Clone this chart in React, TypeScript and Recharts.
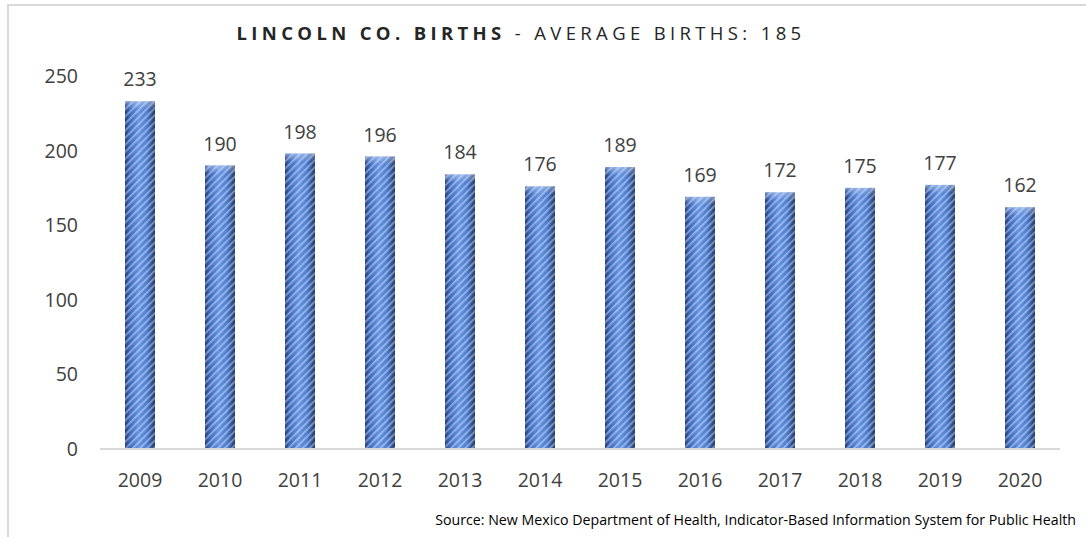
import React from 'react';
import { BarChart, Bar, XAxis, YAxis, LabelList } from 'recharts';

const years = ['2009', '2010', '2011', '2012', '2013', '2014', '2015', '2016', '2017', '2018', '2019', '2020'];
const births = [233, 190, 198, 196, 184, 176, 189, 169, 172, 175, 177, 162];
const yTicks = [0, 50, 100, 150, 200, 250];

const data = years.map((year, i) => ({ year, births: births[i] }));

const font = '"Open Sans", sans-serif';
const textColor = '#404040';

// cylinder-ish bar: shaded body plus diagonal stripes and a light cap
const StripedBar = (props: any) => {
  const { x, y, width, height } = props;
  if (!height || height <= 0) return null;
  return (
    <g>
      <rect x={x} y={y} width={width} height={height} fill="url(#cylShade)" />
      <rect x={x} y={y} width={width} height={height} fill="url(#diagStripes)" />
      <rect x={x} y={y} width={width} height={Math.min(8, height)} fill="url(#capShade)" opacity={0.45} />
    </g>
  );
};

export default function App() {
  return (
    <div style={{ position: 'relative', width: 1086, height: 537, background: '#fff', fontFamily: font }}>
      <style>{'body{margin:0}'}</style>
      <svg width={0} height={0} style={{ position: 'absolute' }}>
        <defs>
          <linearGradient id="cylShade" x1="0" y1="0" x2="1" y2="0">
            <stop offset="0%" stopColor="#22407c" />
            <stop offset="15%" stopColor="#3d68bd" />
            <stop offset="45%" stopColor="#6594e2" />
            <stop offset="72%" stopColor="#517fd0" />
            <stop offset="100%" stopColor="#1f3a72" />
          </linearGradient>
          <linearGradient id="capShade" x1="0" y1="0" x2="0" y2="1">
            <stop offset="0%" stopColor="#d3e2fa" />
            <stop offset="100%" stopColor="#d3e2fa" stopOpacity="0" />
          </linearGradient>
          <pattern id="diagStripes" width="5" height="5" patternUnits="userSpaceOnUse" patternTransform="rotate(45)">
            <rect x="0" y="0" width="1.7" height="5" fill="#ffffff" opacity="0.42" />
          </pattern>
        </defs>
      </svg>
      <div
        style={{
          position: 'absolute',
          left: 7,
          top: 4,
          right: 0,
          bottom: 0,
          borderLeft: '2px solid #d9d9d9',
          borderTop: '2px solid #d9d9d9',
        }}
      />
      <div
        style={{
          position: 'absolute',
          top: 20,
          left: 0,
          width: 1042,
          textAlign: 'center',
          fontSize: 18.5,
          letterSpacing: 4.35,
          color: '#262626',
          whiteSpace: 'nowrap',
        }}
      >
        <b>LINCOLN CO. BIRTHS</b> - AVERAGE BIRTHS: 185
      </div>
      <BarChart
        width={1086}
        height={537}
        data={data}
        margin={{ top: 76, right: 26, bottom: 44, left: 0 }}
        barSize={30}
        style={{ position: 'absolute', left: 0, top: 0 }}
      >
        <XAxis
          dataKey="year"
          axisLine={{ stroke: '#d9d9d9', strokeWidth: 2 }}
          tickLine={false}
          tickSize={0}
          tickMargin={24}
          height={44}
          interval={0}
          tick={{ fontSize: 19.5, fill: textColor, fontFamily: font }}
        />
        <YAxis
          domain={[0, 250]}
          ticks={yTicks}
          axisLine={false}
          tickLine={false}
          tickSize={0}
          tickMargin={22}
          width={100}
          tick={{ fontSize: 19.5, fill: textColor, fontFamily: font }}
        />
        <Bar dataKey="births" shape={StripedBar} isAnimationActive={false}>
          <LabelList
            dataKey="births"
            position="top"
            offset={15}
            style={{ fontSize: 19.5, fill: textColor, fontFamily: font }}
          />
        </Bar>
      </BarChart>
      <div
        style={{
          position: 'absolute',
          right: 10,
          top: 510,
          fontSize: 14.2,
          color: '#000',
          whiteSpace: 'nowrap',
        }}
      >
        Source: New Mexico Department of Health, Indicator-Based Information System for Public Health
      </div>
    </div>
  );
}
